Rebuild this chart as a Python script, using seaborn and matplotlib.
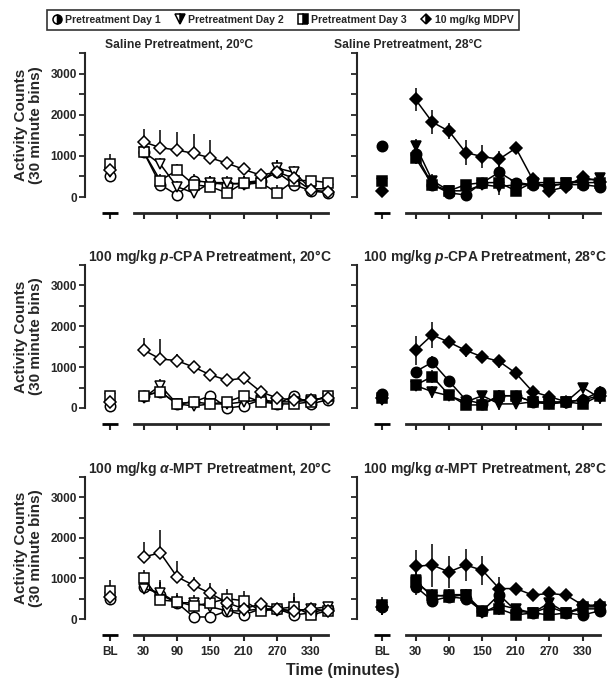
import matplotlib
matplotlib.use("Agg")
import matplotlib.pyplot as plt
from matplotlib.lines import Line2D
from matplotlib.ticker import MultipleLocator
import seaborn as sns

# time points (minutes) and the baseline slot
times = [30, 60, 90, 120, 150, 180, 210, 240, 270, 300, 330, 360]
bl_pos = -30
series = ["Pretreatment Day 1", "Pretreatment Day 2", "Pretreatment Day 3", "10 mg/kg MDPV"]
markers = ["o", "v", "s", "D"]
marker_sizes = [7.5, 7.8, 7.2, 6.0]

# Saline 20C
sal20_day1 = [1100, 300, 50, 400, 350, 300, 350, 400, 600, 300, 150, 100]
sal20_day2 = [1100, 800, 250, 100, 350, 350, 300, 350, 700, 600, 200, 200]
sal20_day3 = [1100, 400, 650, 300, 250, 100, 350, 350, 100, 400, 400, 350]
sal20_mdpv = [1340, 1200, 1140, 1060, 950, 820, 670, 530, 610, 450, 170, 130]
sal20_mdpv_err = [320, 420, 440, 470, 440, 150, 100, 100, 300, 150, 100, 100]
sal20_day_err = [150, 150, 150, 150, 150, 150, 150, 150, 200, 150, 100, 100]
sal20_bl = [500, 600, 800, 650]
sal20_bl_err = [250, 200, 250, 250]

# Saline 28C
sal28_day1 = [1050, 300, 100, 50, 350, 600, 350, 300, 300, 300, 300, 250]
sal28_day2 = [1250, 400, 150, 150, 300, 250, 300, 300, 250, 350, 400, 450]
sal28_day3 = [950, 300, 150, 300, 350, 350, 150, 350, 350, 350, 350, 350]
sal28_mdpv = [2370, 1820, 1600, 1080, 980, 920, 1190, 430, 150, 250, 490, 370]
sal28_mdpv_err = [280, 290, 200, 300, 280, 200, 100, 100, 150, 100, 100, 100]
sal28_day_err = [150, 150, 100, 100, 100, 200, 100, 100, 100, 100, 100, 100]
sal28_bl = [1230, 350, 400, 150]
sal28_bl_err = [100, 100, 100, 100]

# p-CPA 20C
pcpa20_day1 = [300, 400, 100, 150, 300, 0, 50, 200, 100, 300, 100, 200]
pcpa20_day2 = [250, 550, 100, 50, 100, 100, 150, 200, 150, 150, 200, 250]
pcpa20_day3 = [300, 400, 100, 150, 100, 150, 300, 150, 100, 100, 150, 300]
pcpa20_mdpv = [1420, 1200, 1160, 1000, 810, 680, 730, 400, 240, 200, 200, 250]
pcpa20_mdpv_err = [300, 500, 150, 100, 100, 80, 80, 80, 80, 80, 80, 80]
pcpa20_day_err = [100, 150, 80, 80, 80, 80, 80, 80, 80, 80, 80, 80]
pcpa20_bl = [50, 250, 300, 150]
pcpa20_bl_err = [100, 100, 100, 100]

# p-CPA 28C
pcpa28_day1 = [890, 1120, 660, 200, 100, 300, 300, 150, 150, 150, 200, 400]
pcpa28_day2 = [550, 400, 300, 150, 300, 100, 100, 150, 100, 150, 500, 250]
pcpa28_day3 = [560, 770, 320, 75, 75, 300, 300, 150, 100, 150, 100, 300]
pcpa28_mdpv = [1410, 1790, 1610, 1410, 1250, 1140, 850, 400, 280, 150, 200, 300]
pcpa28_mdpv_err = [350, 320, 100, 150, 100, 150, 150, 150, 100, 80, 80, 80]
pcpa28_day_err = [100, 150, 100, 80, 80, 150, 80, 80, 80, 80, 100, 150]
pcpa28_bl = [350, 200, 250, 250]
pcpa28_bl_err = [100, 100, 100, 100]

# a-MPT 20C
mpt20_day1 = [800, 600, 400, 50, 50, 200, 100, 250, 250, 100, 150, 250]
mpt20_day2 = [750, 650, 400, 400, 300, 200, 200, 250, 200, 200, 250, 300]
mpt20_day3 = [1000, 470, 430, 320, 400, 500, 450, 200, 250, 300, 100, 200]
mpt20_mdpv = [1530, 1630, 1040, 830, 630, 400, 250, 370, 250, 200, 250, 200]
mpt20_mdpv_err = [370, 560, 400, 200, 250, 150, 100, 80, 80, 80, 80, 80]
mpt20_day_err = [200, 300, 200, 200, 200, 250, 250, 100, 100, 350, 150, 100]
mpt20_bl = [500, 550, 700, 550]
mpt20_bl_err = [250, 250, 250, 250]

# a-MPT 28C
mpt28_day1 = [800, 450, 550, 500, 200, 600, 200, 150, 300, 150, 100, 200]
mpt28_day2 = [950, 550, 600, 600, 150, 350, 250, 150, 400, 150, 250, 250]
mpt28_day3 = [900, 600, 550, 600, 200, 250, 100, 150, 100, 150, 300, 300]
mpt28_mdpv = [1300, 1330, 1160, 1330, 1200, 750, 750, 590, 630, 590, 340, 340]
mpt28_mdpv_err = [390, 530, 400, 400, 350, 280, 100, 80, 80, 80, 80, 80]
mpt28_day_err = [200, 150, 150, 150, 100, 150, 100, 80, 100, 80, 80, 80]
mpt28_bl = [300, 300, 350, 300]
mpt28_bl_err = [200, 200, 200, 200]

panels = [
    ("Saline Pretreatment, 20°C", False, [sal20_day1, sal20_day2, sal20_day3, sal20_mdpv],
     [sal20_day_err] * 3 + [sal20_mdpv_err], sal20_bl, sal20_bl_err),
    ("Saline Pretreatment, 28°C", True, [sal28_day1, sal28_day2, sal28_day3, sal28_mdpv],
     [sal28_day_err] * 3 + [sal28_mdpv_err], sal28_bl, sal28_bl_err),
    ("100 mg/kg $p$-CPA Pretreatment, 20°C", False, [pcpa20_day1, pcpa20_day2, pcpa20_day3, pcpa20_mdpv],
     [pcpa20_day_err] * 3 + [pcpa20_mdpv_err], pcpa20_bl, pcpa20_bl_err),
    ("100 mg/kg $p$-CPA Pretreatment, 28°C", True, [pcpa28_day1, pcpa28_day2, pcpa28_day3, pcpa28_mdpv],
     [pcpa28_day_err] * 3 + [pcpa28_mdpv_err], pcpa28_bl, pcpa28_bl_err),
    ("100 mg/kg $\\alpha$-MPT Pretreatment, 20°C", False, [mpt20_day1, mpt20_day2, mpt20_day3, mpt20_mdpv],
     [mpt20_day_err] * 3 + [mpt20_mdpv_err], mpt20_bl, mpt20_bl_err),
    ("100 mg/kg $\\alpha$-MPT Pretreatment, 28°C", True, [mpt28_day1, mpt28_day2, mpt28_day3, mpt28_mdpv],
     [mpt28_day_err] * 3 + [mpt28_mdpv_err], mpt28_bl, mpt28_bl_err),
]

sns.set_style("ticks")
plt.rcParams["font.family"] = ["Liberation Sans", "DejaVu Sans"]
plt.rcParams["font.weight"] = "bold"
plt.rcParams["mathtext.fontset"] = "custom"
plt.rcParams["mathtext.it"] = "Liberation Sans:italic:bold"
plt.rcParams["mathtext.rm"] = "Liberation Sans:bold"

W, H = 613, 685
fig = plt.figure(figsize=(W / 100, H / 100), dpi=100)

# pixel layout: left of y axis, top of y axis, zero line
col_left = [85, 357]
row_zero = [197, 408, 619]
row_top = [53, 265, 477]
ax_w = 247
title_x = [179, 408, 210, 485, 210, 485]
title_size = [8.7, 8.7, 10, 10, 10, 10]

for i, (title, filled, vals, errs, bl, bl_err) in enumerate(panels):
    r, c = divmod(i, 2)
    ax = fig.add_axes([col_left[c] / W, 1 - row_zero[r] / H, ax_w / W, (row_zero[r] - row_top[r]) / H])
    face = "black" if filled else "white"

    # open-symbol panels show only the upper half of the error bar
    for v, e in zip(vals, errs):
        yerr = e if filled else [[0] * len(e), e]
        ax.errorbar(times, v, yerr=yerr, fmt="none", ecolor="black", elinewidth=1.1, capsize=0,
                    clip_on=False, zorder=1)
    bl_yerr = bl_err if filled else [[0] * len(bl_err), bl_err]
    ax.errorbar([bl_pos] * 4, bl, yerr=bl_yerr, fmt="none", ecolor="black", elinewidth=1.1, capsize=0,
                clip_on=False, zorder=1)

    for v, b, m, ms in zip(vals, bl, markers, marker_sizes):
        sns.lineplot(x=times, y=v, marker=m, markersize=ms, color="black", markerfacecolor=face,
                     markeredgecolor="black", markeredgewidth=1.1, linewidth=1.1, clip_on=False,
                     ax=ax, zorder=3)
        sns.lineplot(x=[bl_pos], y=[b], marker=m, markersize=ms, color="black", markerfacecolor=face,
                     markeredgecolor="black", markeredgewidth=1.1, clip_on=False, ax=ax, zorder=3)

    ax.set_ylim(0, 3500)
    ax.yaxis.set_major_locator(MultipleLocator(1000))
    ax.yaxis.set_minor_locator(MultipleLocator(500))
    ax.set_yticks([0, 1000, 2000, 3000])
    ax.spines["left"].set_bounds(0, 3500)
    ax.spines["left"].set_linewidth(1.5)
    for s in ["top", "right"]:
        ax.spines[s].set_visible(False)

    # broken x axis: BL segment + time segment
    ax.spines["bottom"].set_position(("outward", 11.5))
    ax.spines["bottom"].set_bounds(12, 360)
    ax.spines["bottom"].set_linewidth(2)
    ax.plot([-45, -15], [0, 0], transform=ax.spines["bottom"].get_spine_transform(),
            color="black", lw=2, solid_capstyle="butt", clip_on=False)
    ax.set_xticks([bl_pos, 30, 90, 150, 210, 270, 330])
    ax.set_xticklabels(["BL", "30", "90", "150", "210", "270", "330"])
    ax.set_xlim(-75, 368)

    ax.tick_params(axis="both", which="both", direction="out", length=4, width=1.3, labelsize=8.5, pad=2)
    ax.tick_params(axis="x", length=4, width=1.5, pad=4)
    ax.set_xlabel("")
    ax.set_ylabel("")
    if r < 2:
        ax.tick_params(axis="x", labelbottom=False)
    if c == 1:
        ax.tick_params(axis="y", labelleft=False)
    else:
        ax.set_ylabel("Activity Counts\n(30 minute bins)", fontsize=11, fontweight="bold", linespacing=1.1)
        ax.yaxis.set_label_coords(-0.17, 0.5)

    fig.text(title_x[i] / W, 1 - (row_top[r] - 8) / H, title, ha="center", va="center",
             fontsize=title_size[i], fontweight="bold")

fig.text(343 / W, 1 - 670 / H, "Time (minutes)", ha="center", va="center", fontsize=11.5, fontweight="bold")

handles = [Line2D([], [], linestyle="none", marker=m, markersize=6.5 if m != "D" else 5.2, fillstyle="right",
                  markerfacecolor="black", markerfacecoloralt="white", markeredgecolor="black",
                  markeredgewidth=1.1) for m in markers]
leg = fig.legend(handles, series, loc="center", bbox_to_anchor=(283 / W, 1 - 20 / H), ncol=4,
                 frameon=True, fancybox=False, edgecolor="black", handlelength=0.8, handletextpad=0.4,
                 columnspacing=1.4, fontsize=7.6, borderpad=0.5)
leg.get_frame().set_linewidth(1.2)

fig.savefig("out.png", dpi=100)
